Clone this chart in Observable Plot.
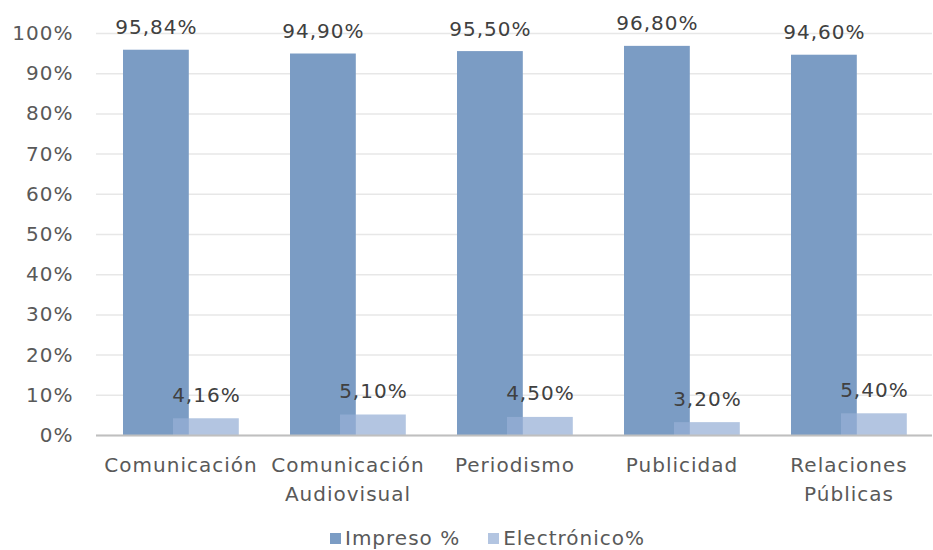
<!DOCTYPE html>
<html>
<head>
<meta charset="utf-8">
<script src="https://cdn.jsdelivr.net/npm/d3@7"></script>
<script src="https://cdn.jsdelivr.net/npm/@observablehq/plot@0.6"></script>
<style>
  body { margin: 0; background: #fff; font-family: "DejaVu Sans", Verdana, sans-serif; overflow: hidden; }
  #chart svg { display: block; }
  #legend { height: 24px; line-height: 24px; margin-top: 11px; padding-left: 42px; display: flex; justify-content: center; align-items: center; font-size: 20px; letter-spacing: 1px; color: #595959; }
  .item { display: flex; align-items: center; margin: 0 14px; }
  .sw { width: 11px; height: 11px; margin-right: 4px; display: inline-block; }
  svg text { letter-spacing: 1px; }
</style>
</head>
<body>
<div id="chart"></div>
<div id="legend"></div>
<script>
const categories = ["Comunicación", "Comunicación\nAudiovisual", "Periodismo", "Publicidad", "Relaciones\nPúblicas"];
const impreso = [95.84, 94.90, 95.50, 96.80, 94.60];
const electronico = [4.16, 5.10, 4.50, 3.20, 5.40];
const yTicks = [0, 10, 20, 30, 40, 50, 60, 70, 80, 90, 100];
const seriesNames = ["Impreso %", "Electrónico%"];
const colors = ["#7b9cc4", "#b3c5e1"];

const fmt = v => v.toFixed(2).replace(".", ",") + "%";
const rowsI = categories.map((c, i) => ({cat: c, v: impreso[i]}));
const rowsE = categories.map((c, i) => ({cat: c, v: electronico[i]}));

const W = 933, H = 515, mL = 96, mR = 1;
const band = (W - mL - mR) / categories.length;

const chart = Plot.plot({
  width: W,
  height: H,
  marginLeft: mL,
  marginRight: mR,
  marginTop: 33,
  marginBottom: 80,
  style: {fontFamily: "DejaVu Sans, Verdana, sans-serif", fontSize: "20px", color: "#595959", background: "#fff"},
  x: {domain: categories, padding: 0, label: null},
  y: {domain: [0, 100], label: null},
  marks: [
    Plot.gridY(yTicks, {stroke: "#e7e7e7", strokeOpacity: 1, strokeWidth: 1.5}),
    Plot.axisY(yTicks, {tickSize: 0, tickPadding: 23, tickFormat: d => d + "%", fill: "#595959", fontSize: 20, label: null}),
    Plot.axisX({tickSize: 0, tickPadding: 16, fill: "#595959", fontSize: 20, label: null, lineHeight: 1.45}),
    Plot.barY(rowsI, {x: "cat", y: "v", fill: colors[0], insetLeft: 26, insetRight: band - 92}),
    Plot.barY(rowsE, {x: "cat", y: "v", fill: "#97b0d6", fillOpacity: 0.73, insetLeft: 76, insetRight: band - 142}),
    Plot.ruleY([0], {stroke: "#bfbfbf", strokeWidth: 2}),
    Plot.text(rowsI, {x: "cat", y: "v", text: d => fmt(d.v), dx: 59 - band / 2, dy: -16, lineAnchor: "bottom", fill: "#404040", fontSize: 20}),
    Plot.text(rowsE, {x: "cat", y: "v", text: d => fmt(d.v), dx: 109 - band / 2, dy: -17, lineAnchor: "bottom", fill: "#404040", fontSize: 20})
  ]
});
document.getElementById("chart").appendChild(chart);

const legend = document.getElementById("legend");
seriesNames.forEach((n, i) => {
  const it = document.createElement("span");
  it.className = "item";
  const sw = document.createElement("span");
  sw.className = "sw";
  sw.style.background = colors[i];
  it.appendChild(sw);
  it.appendChild(document.createTextNode(n));
  legend.appendChild(it);
});
</script>
</body>
</html>
